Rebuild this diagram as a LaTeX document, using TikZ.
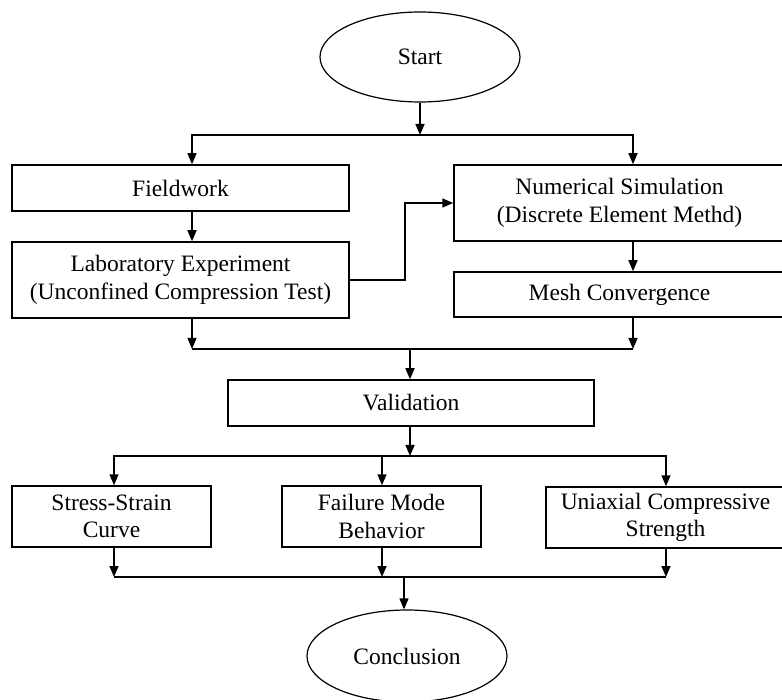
\documentclass[tikz,border=0pt]{standalone}
\usepackage{fontspec}
\setmainfont{Liberation Serif}
\usetikzlibrary{arrows.meta,shapes.geometric}
\begin{document}
\begin{tikzpicture}[x=1pt,y=-1pt,
  every node/.style={font=\fontsize{23.5}{27.5}\selectfont, align=center, inner sep=0pt},
  box/.style={draw, line width=1.5pt, rectangle},
  oval/.style={draw, line width=1.2pt, ellipse, minimum width=200pt, minimum height=90pt},
  arr/.style={line width=1.5pt, -{Triangle[length=11pt,width=9pt]}},
  ln/.style={line width=1.5pt}]
\useasboundingbox (0,0) rectangle (782,700);
\node[oval] (start) at (420,57) {Start};
\node[box, minimum width=337pt, minimum height=46pt] (fw) at (180.5,188) {Fieldwork};
\node[box, minimum width=337pt, minimum height=76pt] (lab) at (180.5,280) {Laboratory Experiment\\(Unconfined Compression Test)};
\node[box, minimum width=331pt, minimum height=76pt] (num) at (619.5,203) {Numerical Simulation\\(Discrete Element Methd)};
\node[box, minimum width=331pt, minimum height=45pt] (mesh) at (619.5,294.5) {Mesh Convergence};
\node[box, minimum width=366pt, minimum height=46pt] (val) at (411,403) {Validation};
\node[box, minimum width=199pt, minimum height=61pt] (ss) at (111.5,516.5) {Stress-Strain\\Curve};
\node[box, minimum width=199pt, minimum height=61pt] (fm) at (381.5,516.5) {Failure Mode\\Behavior};
\node[box, minimum width=239pt, minimum height=61pt] (uc) at (665.5,517.5) {Uniaxial Compressive\\Strength};
\node[oval, minimum height=92pt] (concl) at (407,656) {Conclusion};
\coordinate (L) at (192,0);
\coordinate (R) at (633,0);
\coordinate (M) at (405,0);
\coordinate (A) at (114,0);
\coordinate (B) at (382,0);
\coordinate (C) at (666,0);
\coordinate (j1) at (420,135);
\coordinate (j2) at (410,349);
\coordinate (j3) at (410,456);
\coordinate (j4) at (404,577);
% top split
\draw[arr] (start.south) -- (j1);
\draw[arr] (j1) -| (fw.north -| L);
\draw[arr] (j1) -| (num.north -| R);
\draw[arr] (fw.south -| L) -- (lab.north -| L);
\draw[arr] (lab.east) -- (lab.east -| M) |- (num.west);
\draw[arr] (num.south -| R) -- (mesh.north -| R);
% merge to validation
\draw[arr] (lab.south -| L) -- (L |- j2);
\draw[arr] (mesh.south -| R) -- (R |- j2);
\draw[ln] (L |- j2) -- (R |- j2);
\draw[arr] (j2) -- (val.north -| j2);
% split to results
\draw[arr] (val.south -| j3) -- (j3);
\draw[arr] (j3) -| (ss.north -| A);
\draw[arr] (j3) -| (uc.north -| C);
\draw[arr] (B |- j3) -- (fm.north -| B);
% merge to conclusion
\draw[arr] (ss.south -| A) -- (A |- j4);
\draw[arr] (fm.south -| B) -- (B |- j4);
\draw[arr] (uc.south -| C) -- (C |- j4);
\draw[ln] (A |- j4) -- (C |- j4);
\draw[arr] (j4) -- (j4 |- concl.north);
\end{tikzpicture}
\end{document}
